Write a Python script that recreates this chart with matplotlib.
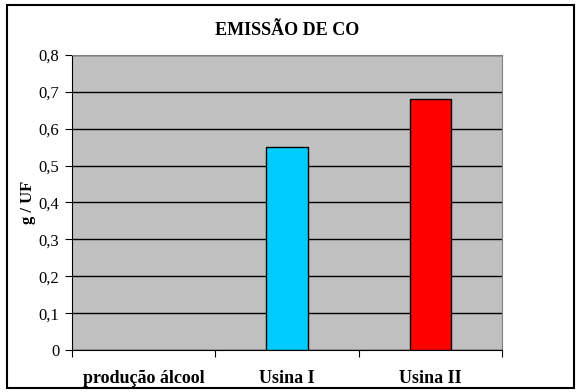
import matplotlib
matplotlib.use("Agg")
import matplotlib.pyplot as plt
from matplotlib.patches import Rectangle

categories = ["produção álcool", "Usina I", "Usina II"]
values = [0.0, 0.55, 0.68]
colors = ["#c0c0c0", "#00ccff", "#ff0000"]
yticks = [0, 0.1, 0.2, 0.3, 0.4, 0.5, 0.6, 0.7, 0.8]
ytick_labels = ["0", "0,1", "0,2", "0,3", "0,4", "0,5", "0,6", "0,7", "0,8"]

plt.rcParams['font.family'] = ['Liberation Serif', 'DejaVu Serif']

fig = plt.figure(figsize=(5.8, 3.92), dpi=100)
fig.patch.set_facecolor("white")
# outer chart border
fig.patches.append(Rectangle((0.012, 0.01), 0.978, 0.978, transform=fig.transFigure,
                             fill=False, edgecolor="black", linewidth=1.5))

ax = fig.add_axes([0.124, 0.107, 0.742, 0.753])
ax.set_facecolor("#c0c0c0")

x = range(len(categories))
bars = ax.bar(x, values, width=0.29, color=colors, edgecolor="black", linewidth=1, zorder=3)
bars[0].set_visible(False)

ax.set_xlim(-0.5, 2.5)
ax.set_ylim(0, 0.8)
ax.set_yticks(yticks)
ax.set_yticklabels(ytick_labels, fontsize=12)
ax.yaxis.grid(True, color="black", linewidth=1, zorder=1)
ax.set_axisbelow(True)

ax.set_xticks([-0.5, 0.5, 1.5, 2.5], minor=False)
ax.set_xticklabels([])
ax.set_xticks(list(x), minor=True)
ax.set_xticklabels(categories, minor=True, fontsize=13, fontweight="bold")
ax.tick_params(axis="x", which="minor", length=0, pad=14)
ax.tick_params(axis="x", which="major", length=5, direction="out", color="black")
ax.tick_params(axis="y", length=5, direction="out", pad=4)

for side in ["top", "right"]:
    ax.spines[side].set_color("#808080")
ax.spines["left"].set_color("black")
ax.spines["bottom"].set_color("black")

ax.set_ylabel("g / UF", fontsize=12, fontweight="bold", labelpad=2)
ax.set_title("EMISSÃO DE CO", fontsize=13, fontweight="bold", pad=14)

fig.savefig("out.png", dpi=100)
